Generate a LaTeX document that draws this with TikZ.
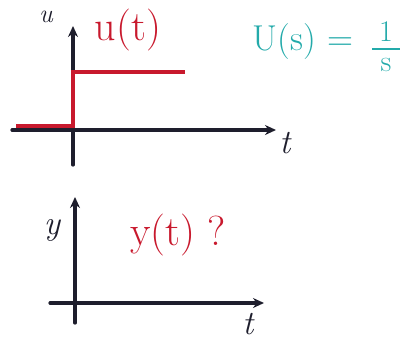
\documentclass[tikz,border=0pt]{standalone}
\usetikzlibrary{arrows.meta}
\definecolor{ink}{RGB}{30,30,45}
\definecolor{redink}{RGB}{200,25,45}
\definecolor{tealink}{RGB}{35,170,170}
\begin{document}
\begin{tikzpicture}[x=1pt,y=-1pt,
  axis/.style={ink,line width=3.2pt,line cap=round,-{Stealth[length=11pt,width=10pt]}},
  stepline/.style={redink,line width=4.5pt,line join=miter},
  redtxt/.style={redink,font=\fontsize{42}{42}\selectfont,inner sep=0pt},
  tealtxt/.style={tealink,font=\fontsize{36}{36}\selectfont,inner sep=0pt},
  lab/.style={ink,font=\itshape\fontsize{34}{34}\selectfont,inner sep=0pt}]
\useasboundingbox (0,0) rectangle (409,340);
% top axes
\coordinate (tyb) at (73,165);
\coordinate (tyt) at (73,26);
\coordinate (txl) at (12,130);
\coordinate (txr) at (276,130);
\draw[axis] (tyb) -- (tyt);
\draw[axis] (txl) -- (txr);
\node[lab] (tt) at (285,143) {t};
\node[lab,font=\itshape\fontsize{26}{26}\selectfont] (tu) at (46,17) {u};
% step
\coordinate (s0) at (16,126);
\coordinate (s1) at (73,126);
\coordinate (s2) at (73,72);
\coordinate (s3) at (185,72);
\draw[stepline] (s0) -- (s1) -- (s2) -- (s3);
\node[redtxt] (ut) at (128,30) {u(t)};
% transform
\node[tealtxt] (Us) at (303,42) {U(s) =};
\node[tealtxt,anchor=base,font=\fontsize{30}{30}\selectfont] (one) at (386,41) {1};
\node[tealtxt,anchor=north,font=\fontsize{30}{30}\selectfont] (ess) at (386,58) {s};
\draw[tealink,line width=2.5pt] (372,49) -- (400,49);
% bottom axes
\coordinate (byb) at (75,323);
\coordinate (byt) at (75,197);
\coordinate (bxl) at (50,303);
\coordinate (bxr) at (264,303);
\draw[axis] (byb) -- (byt);
\draw[axis] (bxl) -- (bxr);
\node[lab] (bt) at (248,324) {t};
\node[lab] (by) at (52,230) {y};
\node[redtxt] (yt) at (178,235) {y(t) ?};
\end{tikzpicture}
\end{document}
